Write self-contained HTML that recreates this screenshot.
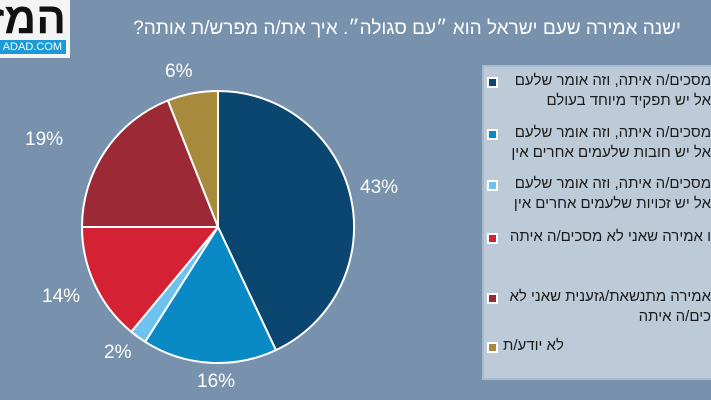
<!DOCTYPE html>
<html><head><meta charset="utf-8"><style>
body{margin:0;width:711px;height:400px;overflow:hidden;background:#7892ad;font-family:"Liberation Sans","DejaVu Sans",sans-serif;position:relative}
.logo{position:absolute;left:0;top:0;width:70px;height:58px;background:#f4f4f4}
.logo .h{position:absolute;right:4px;top:-6px;font-size:44px;font-weight:bold;color:#111;direction:rtl;white-space:nowrap}
.logo .b{position:absolute;left:0;top:40px;width:66px;height:14px;background:#1a9ad6;color:#fff;font-size:11px;line-height:14px;text-align:right;padding-right:4px;box-sizing:border-box}
.title{position:absolute;right:30px;top:18px;color:#fff;font-size:19px;direction:rtl;white-space:nowrap}
.leg{position:absolute;left:482px;top:65px;width:240px;height:315px;background:#bdcbd9;border:2px solid #a8bace;box-sizing:border-box}
.t{position:absolute;right:0;color:#1a1a1a;font-size:15px;direction:rtl;white-space:nowrap}
.sq{position:absolute;left:487px;width:7px;height:7px;border:2px solid #fff}
.lbl{position:absolute;color:#fff;font-size:19px}
</style></head><body>
<div class="logo"><div class="h">המז</div><div class="b">ADAD.COM</div></div>
<div class="title">ישנה אמירה שעם ישראל הוא ״עם סגולה״. איך את/ה מפרש/ת אותה?</div>
<svg style="position:absolute;left:0;top:0" width="711" height="400">
<g stroke="#fff" stroke-width="2" stroke-linejoin="round">
<path d="M218,227 L218,91 A136,136 0 0 1 275.9,350.1 Z" fill="#0b4670"/>
<path d="M218,227 L275.9,350.1 A136,136 0 0 1 145.1,341.8 Z" fill="#0a8ac4"/>
<path d="M218,227 L145.1,341.8 A136,136 0 0 1 131.3,331.8 Z" fill="#6ec3ee"/>
<path d="M218,227 L131.3,331.8 A136,136 0 0 1 82,227 Z" fill="#d42133"/>
<path d="M218,227 L82,227 A136,136 0 0 1 167.9,100.5 Z" fill="#9b2a36"/>
<path d="M218,227 L167.9,100.5 A136,136 0 0 1 218,91 Z" fill="#a88a3c"/>
</g></svg>
<div class="lbl" style="left:360px;top:177px">43%</div>
<div class="lbl" style="left:197px;top:371px">16%</div>
<div class="lbl" style="left:104px;top:342px">2%</div>
<div class="lbl" style="left:42px;top:286px">14%</div>
<div class="lbl" style="left:25px;top:129px">19%</div>
<div class="lbl" style="left:165px;top:61px">6%</div>
<div class="leg"></div>
<div class="sq" style="top:77px;background:#0b4670"></div>
<div class="t" style="top:72px">מסכים/ה איתה, וזה אומר שלעם</div>
<div class="t" style="top:92px">אל יש תפקיד מיוחד בעולם</div>
<div class="sq" style="top:129px;background:#0a8ac4"></div>
<div class="t" style="top:124px">מסכים/ה איתה, וזה אומר שלעם</div>
<div class="t" style="top:144px">אל יש חובות שלעמים אחרים אין</div>
<div class="sq" style="top:180px;background:#6ec3ee"></div>
<div class="t" style="top:175px">מסכים/ה איתה, וזה אומר שלעם</div>
<div class="t" style="top:195px">אל יש זכויות שלעמים אחרים אין</div>
<div class="sq" style="top:233px;background:#d42133"></div>
<div class="t" style="top:228px">ו אמירה שאני לא מסכים/ה איתה</div>
<div class="sq" style="top:293px;background:#9b2a36"></div>
<div class="t" style="top:288px">אמירה מתנשאת/גזענית שאני לא</div>
<div class="t" style="top:308px">כים/ה איתה</div>
<div class="sq" style="top:342px;background:#a88a3c"></div>
<div class="t" style="top:337px;right:auto;left:503px">לא יודע/ת</div>
</body></html>
